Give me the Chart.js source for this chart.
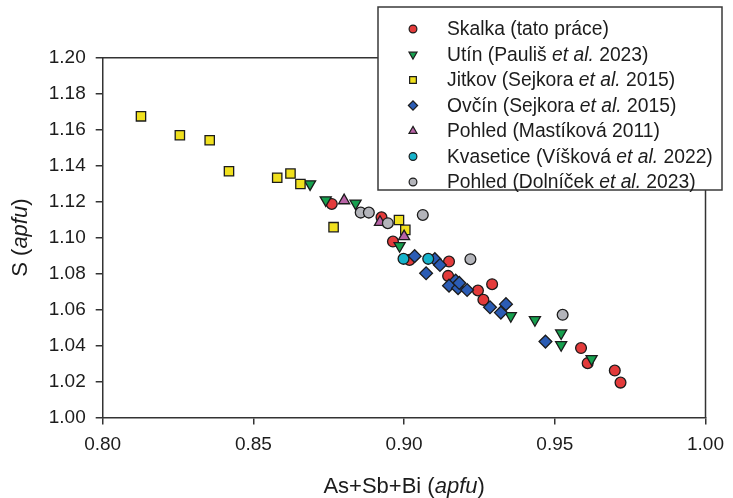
<!DOCTYPE html>
<html>
<head>
<meta charset="utf-8">
<script src="https://cdn.jsdelivr.net/npm/chart.js@4.4.0/dist/chart.umd.min.js"></script>
<style>
  html, body { margin: 0; padding: 0; background: #fff; }
  #wrap { width: 733px; height: 498px; }
</style>
</head>
<body>
<div id="wrap"><canvas id="c" width="733" height="498"></canvas></div>
<script>
// hodnoty (As+Sb+Bi vs. S, apfu)
const skalkaX = [0.876, 0.8925, 0.8963, 0.9018, 0.9149, 0.9146, 0.9245, 0.9263, 0.9292, 0.9587, 0.9609, 0.9699, 0.9718];
const skalkaY = [1.1187, 1.1113, 1.0978, 1.0876, 1.0867, 1.0787, 1.0706, 1.0654, 1.0741, 1.0386, 1.0302, 1.0261, 1.0194];

const utinX = [0.8688, 0.874, 0.8839, 0.8985, 0.9354, 0.9434, 0.9521, 0.9521, 0.9622];
const utinY = [1.1298, 1.1209, 1.1191, 1.0954, 1.0565, 1.0543, 1.0469, 1.0404, 1.0326];

const jitkovX = [0.8127, 0.8256, 0.8355, 0.8419, 0.8579, 0.8623, 0.8656, 0.8766, 0.8983, 0.9004];
const jitkovY = [1.1674, 1.1569, 1.1541, 1.1369, 1.1333, 1.1356, 1.1298, 1.1058, 1.1098, 1.1043];

const ovcinX = [0.9035, 0.9102, 0.9119, 0.9073, 0.9171, 0.9149, 0.9179, 0.9209, 0.9183, 0.9285, 0.9321, 0.9338, 0.9469];
const ovcinY = [1.0897, 1.088, 1.0848, 1.0802, 1.0761, 1.0733, 1.0719, 1.0709, 1.0748, 1.0613, 1.0583, 1.063, 1.0422];

const mastikovaX = [0.8801, 0.892, 0.9];
const mastikovaY = [1.1206, 1.1086, 1.1006];

const kvaseticeX = [0.8998, 0.908];
const kvaseticeY = [1.0882, 1.0882];

const dolnicekX = [0.8856, 0.8883, 0.8946, 0.9062, 0.922, 0.9526];
const dolnicekY = [1.1139, 1.1139, 1.108, 1.1126, 1.088, 1.0571];

const xTicks = [0.80, 0.85, 0.90, 0.95, 1.00];
const yTicks = [1.00, 1.02, 1.04, 1.06, 1.08, 1.10, 1.12, 1.14, 1.16, 1.18, 1.20];

// legenda: [text, kurzíva]
const legendLabels = [
  [['Skalka (tato práce)', false]],
  [['Utín (Pauliš ', false], ['et al.', true], [' 2023)', false]],
  [['Jitkov (Sejkora ', false], ['et al.', true], [' 2015)', false]],
  [['Ovčín (Sejkora ', false], ['et al.', true], [' 2015)', false]],
  [['Pohled (Mastíková 2011)', false]],
  [['Kvasetice (Víšková ', false], ['et al.', true], [' 2022)', false]],
  [['Pohled (Dolníček ', false], ['et al.', true], [' 2023)', false]]
];

const FONT = '"Liberation Sans", Arial, Helvetica, sans-serif';
const INK = '#1c1c1c';

function pts(xs, ys) {
  return xs.map((x, i) => ({ x: x, y: ys[i] }));
}

function series(label, xs, ys, style, radius, color, rot, order) {
  return {
    label: label,
    data: pts(xs, ys),
    pointStyle: style,
    pointRadius: radius,
    pointHoverRadius: radius,
    rotation: rot,
    backgroundColor: color,
    borderColor: '#1b1b1b',
    borderWidth: 1.3,
    showLine: false,
    order: order
  };
}

const datasets = [
  series('Skalka', skalkaX, skalkaY, 'circle', 5.4, '#e33b3b', 0, 7),
  series('Utín', utinX, utinY, 'triangle', 6.4, '#16a04e', 180, 6),
  series('Jitkov', jitkovX, jitkovY, 'rect', 6.6, '#f0e01e', 0, 5),
  series('Ovčín', ovcinX, ovcinY, 'rectRot', 6.4, '#2b5cb4', 0, 4),
  series('Pohled M', mastikovaX, mastikovaY, 'triangle', 6.4, '#b863a6', 0, 3),
  series('Kvasetice', kvaseticeX, kvaseticeY, 'circle', 5.4, '#16b3cb', 0, 2),
  series('Pohled D', dolnicekX, dolnicekY, 'circle', 5.4, '#b3b4ba', 0, 1)
];

function drawSegs(ctx, segs, x, y, size) {
  let cx = x;
  segs.forEach(([t, it]) => {
    ctx.font = (it ? 'italic ' : '') + size + 'px ' + FONT;
    ctx.fillText(t, cx, y);
    cx += ctx.measureText(t).width;
  });
}

function segsWidth(ctx, segs, size) {
  let w = 0;
  segs.forEach(([t, it]) => {
    ctx.font = (it ? 'italic ' : '') + size + 'px ' + FONT;
    w += ctx.measureText(t).width;
  });
  return w;
}

const decor = {
  id: 'decor',
  afterDatasetsDraw(chart) {
    const ctx = chart.ctx;
    const a = chart.chartArea;
    ctx.save();
    // horní a pravý rám
    ctx.strokeStyle = '#333';
    ctx.lineWidth = 1.5;
    ctx.beginPath();
    ctx.moveTo(a.left, a.top);
    ctx.lineTo(a.right, a.top);
    ctx.lineTo(a.right, a.bottom);
    ctx.stroke();

    // popisky os
    ctx.fillStyle = INK;
    ctx.textBaseline = 'alphabetic';
    const xt = [['As+Sb+Bi (', false], ['apfu', true], [')', false]];
    const wx = segsWidth(ctx, xt, 22);
    drawSegs(ctx, xt, (a.left + a.right) / 2 - wx / 2, 493, 22);

    const yt = [['S (', false], ['apfu', true], [')', false]];
    const wy = segsWidth(ctx, yt, 22);
    ctx.translate(27, (a.top + a.bottom) / 2);
    ctx.rotate(-Math.PI / 2);
    drawSegs(ctx, yt, -wy / 2, 0, 22);
    ctx.restore();
  },
  afterDraw(chart) {
    const ctx = chart.ctx;
    ctx.save();
    // legenda
    const bx = 378, by = 7, bw = 344, bh = 183;
    ctx.fillStyle = '#fff';
    ctx.fillRect(bx, by, bw, bh);
    ctx.strokeStyle = '#3a3a3a';
    ctx.lineWidth = 1.5;
    ctx.strokeRect(bx, by, bw, bh);

    ctx.textBaseline = 'middle';
    legendLabels.forEach((segs, i) => {
      const ds = datasets[i];
      const y = 29 + i * 25.5;
      ctx.fillStyle = ds.backgroundColor;
      ctx.strokeStyle = ds.borderColor;
      ctx.lineWidth = 1.2;
      Chart.helpers.drawPoint(ctx, {
        pointStyle: ds.pointStyle,
        radius: ds.pointRadius * 0.72,
        rotation: ds.rotation,
        borderWidth: 1.2
      }, 413, y);
      ctx.fillStyle = INK;
      drawSegs(ctx, segs, 447, y + 1, 19.3);
    });
    ctx.restore();
  }
};

new Chart(document.getElementById('c'), {
  type: 'scatter',
  data: { datasets: datasets },
  options: {
    responsive: false,
    devicePixelRatio: 1,
    animation: false,
    events: [],
    layout: { padding: { left: 0, top: 57.7, right: 21.3, bottom: 0 } },
    plugins: {
      legend: { display: false },
      tooltip: { enabled: false }
    },
    scales: {
      x: {
        type: 'linear',
        min: 0.8,
        max: 1.0,
        afterFit(scale) { scale.height = 80.5; },
        afterBuildTicks(scale) { scale.ticks = xTicks.map(v => ({ value: v })); },
        ticks: {
          callback: v => v.toFixed(2),
          color: INK,
          font: { family: FONT, size: 19 },
          padding: 9,
          maxRotation: 0,
          autoSkip: false
        },
        grid: { drawOnChartArea: false, drawTicks: true, tickLength: 7, color: '#333', lineWidth: 1.5 },
        border: { display: true, color: '#333', width: 1.5 }
      },
      y: {
        type: 'linear',
        min: 1.0,
        max: 1.2,
        afterFit(scale) { scale.width = 102.7; },
        afterBuildTicks(scale) { scale.ticks = yTicks.map(v => ({ value: v })); },
        ticks: {
          callback: v => v.toFixed(2),
          color: INK,
          font: { family: FONT, size: 19 },
          padding: 10,
          autoSkip: false
        },
        grid: { drawOnChartArea: false, drawTicks: true, tickLength: 7, color: '#333', lineWidth: 1.5 },
        border: { display: true, color: '#333', width: 1.5 }
      }
    }
  },
  plugins: [decor]
});
</script>
</body>
</html>
